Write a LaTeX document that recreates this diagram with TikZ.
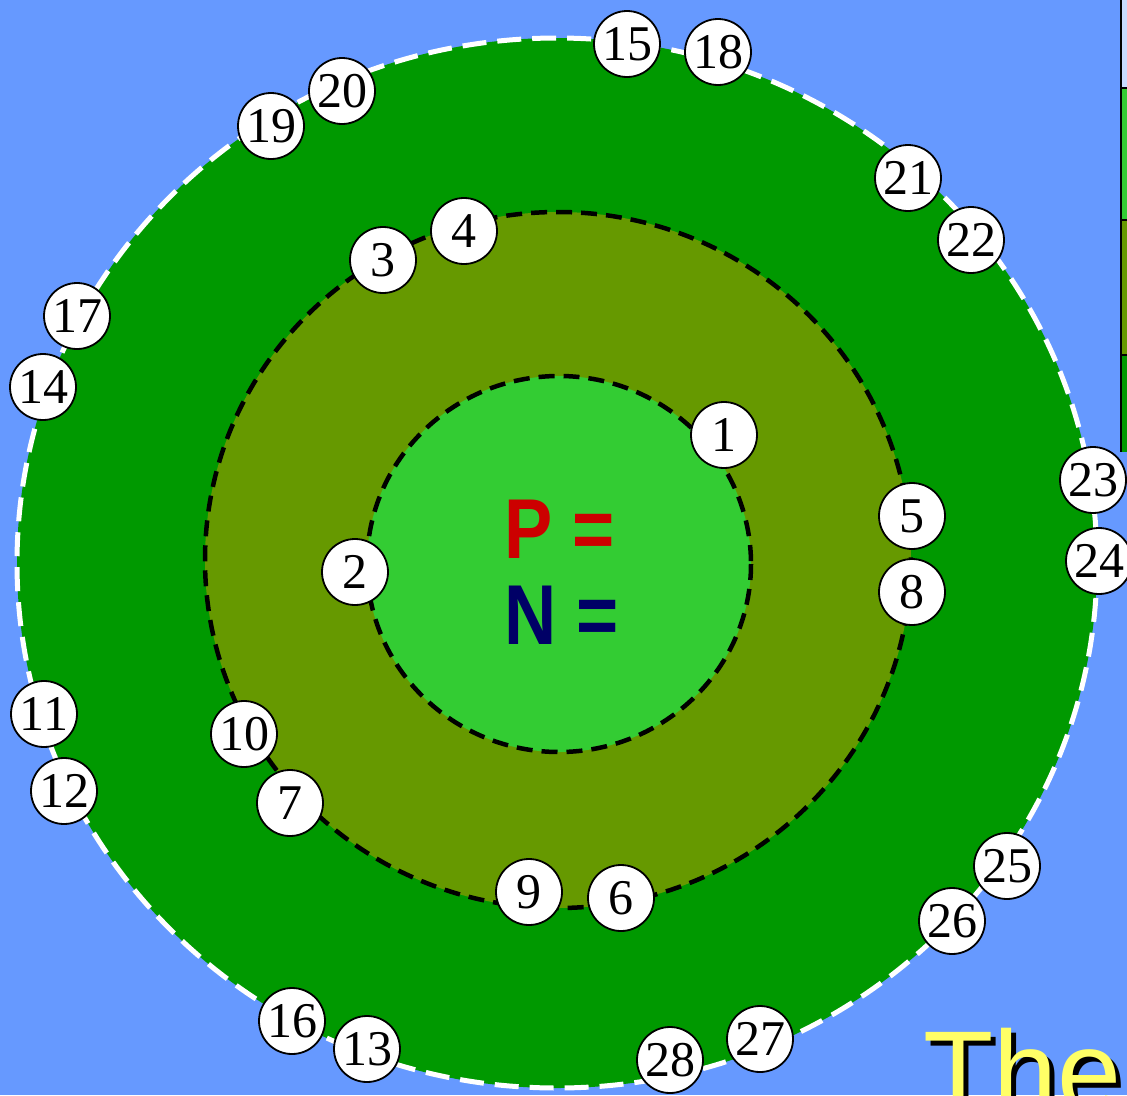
\documentclass[tikz,border=0pt]{standalone}
\usepackage{fontspec}
\setmainfont{Liberation Serif}
\newfontfamily\arialf{Liberation Sans}
\definecolor{bgblue}{HTML}{6699FF}
\definecolor{outergreen}{HTML}{009900}
\definecolor{olive}{HTML}{669900}
\definecolor{lightgreen}{HTML}{33CC33}
\definecolor{pred}{HTML}{CC0000}
\definecolor{nnavy}{HTML}{000066}
\definecolor{yel}{HTML}{FFFF66}
\definecolor{paleblue}{HTML}{C8DCFF}
\tikzset{
  num/.style={circle, draw=black, line width=1.8pt, fill=white, minimum size=66pt, inner sep=0pt, font=\fontsize{50}{50}\selectfont},
  blackdash/.style={draw=black, line width=4.5pt, dash pattern=on 16pt off 9pt},
  whitedash/.style={draw=white, line width=5pt, dash pattern=on 24pt off 11pt},
  bigtxt/.style={font=\arialf\bfseries\fontsize{85}{85}\selectfont, xscale=0.85, inner sep=0pt},
}
\begin{document}
\begin{tikzpicture}[x=1pt,y=-1pt]
\useasboundingbox (0,0) rectangle (1127,1095);
\fill[bgblue] (0,0) rectangle (1127,1095);
% legend strip
\fill[paleblue] (1121,0) rectangle (1130,88);
\fill[lightgreen] (1121,88) rectangle (1130,220);
\fill[olive] (1121,220) rectangle (1130,355);
\fill[outergreen] (1121,355) rectangle (1130,452);
\draw[line width=1.5pt] (1121,0) -- (1121,452);
\draw[line width=1.5pt] (1121,88) -- (1130,88) (1121,220) -- (1130,220) (1121,355) -- (1130,355);
% shells
\fill[outergreen] (557,563) ellipse [x radius=540, y radius=525];
\draw[whitedash] (557,563) ellipse [x radius=540, y radius=525];
\fill[olive] (558,560) ellipse [x radius=353, y radius=348];
\draw[blackdash] (558,560) ellipse [x radius=353, y radius=348];
\fill[lightgreen] (559,564) ellipse [x radius=192, y radius=188];
\draw[blackdash] (559,564) ellipse [x radius=192, y radius=188];
% nucleus text
\node[bigtxt, text=pred] (p) at (560,529) {P =};
\node[bigtxt, text=nnavy] (n) at (562,615) {N =};
% electrons
\node[num] (e1) at (724,435) {1};
\node[num] (e2) at (355,572) {2};
\node[num] (e3) at (383,260) {3};
\node[num] (e4) at (464,231) {4};
\node[num] (e5) at (912,516) {5};
\node[num] (e6) at (621,898) {6};
\node[num] (e7) at (290,803) {7};
\node[num] (e8) at (912,592) {8};
\node[num] (e9) at (529,892) {9};
\node[num] (e10) at (244,734) {10};
\node[num] (e11) at (44,714) {11};
\node[num] (e12) at (64,791) {12};
\node[num] (e13) at (367,1049) {13};
\node[num] (e14) at (43,387) {14};
\node[num] (e15) at (627,44) {15};
\node[num] (e16) at (292,1021) {16};
\node[num] (e17) at (77,316) {17};
\node[num] (e18) at (718,52) {18};
\node[num] (e19) at (271,126) {19};
\node[num] (e20) at (342,91) {20};
\node[num] (e21) at (908,178) {21};
\node[num] (e22) at (971,240) {22};
\node[num] (e23) at (1093,480) {23};
\node[num] (e24) at (1099,561) {24};
\node[num] (e25) at (1007,866) {25};
\node[num] (e26) at (952,921) {26};
\node[num] (e27) at (760,1039) {27};
\node[num] (e28) at (670,1060) {28};
% title fragment
\node[anchor=base west, inner sep=0pt, text=black, font=\arialf\fontsize{115}{115}\selectfont] (theshadow) at (928,1116) {The};
\node[anchor=base west, inner sep=0pt, text=yel, font=\arialf\fontsize{115}{115}\selectfont] (the) at (923,1111) {The};
\end{tikzpicture}
\end{document}
